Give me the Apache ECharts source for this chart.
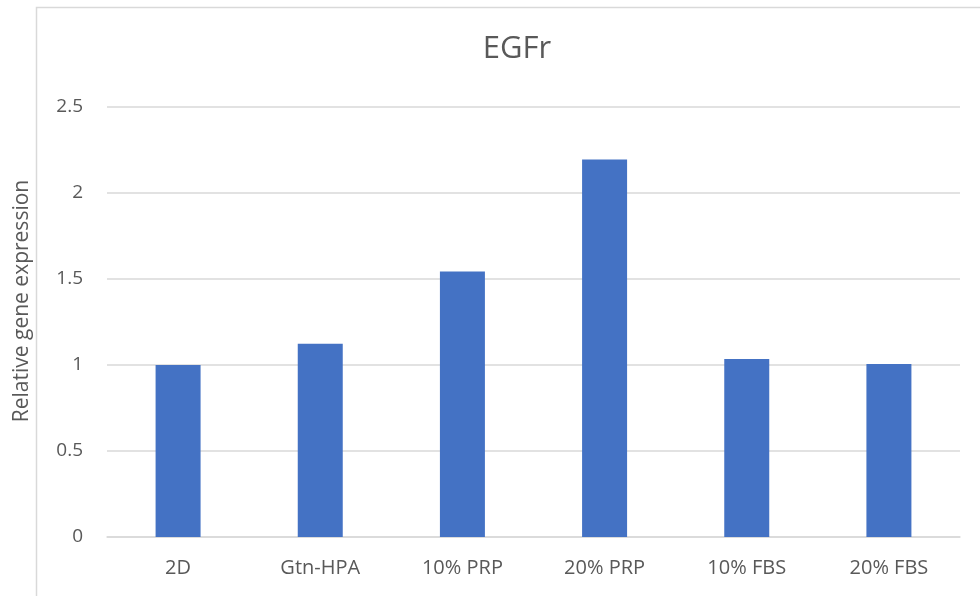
<!DOCTYPE html>
<html>
<head>
<meta charset="utf-8">
<script src="https://cdn.jsdelivr.net/npm/echarts@6/dist/echarts.min.js"></script>
<style>
  html, body { margin: 0; padding: 0; background: #fff; }
  #chart { width: 980px; height: 596px; }
</style>
</head>
<body>
<div id="chart"></div>
<script>
const categories = ['2D', 'Gtn-HPA', '10% PRP', '20% PRP', '10% FBS', '20% FBS']
const expression = [1.0, 1.124, 1.544, 2.195, 1.035, 1.006]
const yTicks = { min: 0, max: 2.5, interval: 0.5 }

const textColor = '#595959'
const fontFamily = '"Open Sans", "Noto Sans", sans-serif'

const chart = echarts.init(document.getElementById('chart'))
chart.setOption({
  animation: false,
  // outer chart-area frame
  graphic: [{
    type: 'rect',
    shape: { x: 36.5, y: 7.5, width: 1000, height: 700 },
    style: { fill: 'none', stroke: '#d9d9d9', lineWidth: 1.5 },
    silent: true
  }],
  title: {
    text: 'EGFr',
    left: 512,
    textAlign: 'center',
    top: 29,
    textStyle: { color: textColor, fontFamily: fontFamily, fontSize: 31, fontWeight: 'normal' }
  },
  grid: { left: 107, right: 20, top: 107, bottom: 59, containLabel: false },
  xAxis: {
    type: 'category',
    data: categories,
    axisLine: { show: true, lineStyle: { color: '#d9d9d9', width: 1.5 } },
    axisTick: { show: false },
    axisLabel: { color: textColor, fontFamily: fontFamily, fontSize: 20, margin: 21 }
  },
  yAxis: {
    type: 'value',
    min: yTicks.min,
    max: yTicks.max,
    interval: yTicks.interval,
    name: 'Relative gene expression',
    nameLocation: 'middle',
    nameGap: 74,
    nameTextStyle: { color: textColor, fontFamily: fontFamily, fontSize: 21, padding: [0, 0, 0, 42] },
    axisLine: { show: false },
    axisTick: { show: false },
    splitLine: { lineStyle: { color: '#d9d9d9', width: 1.5 } },
    axisLabel: { color: textColor, fontFamily: fontFamily, fontSize: 19, margin: 24 }
  },
  series: [{
    type: 'bar',
    data: expression,
    barWidth: 45,
    itemStyle: { color: '#4472C4' }
  }]
})
</script>
</body>
</html>
